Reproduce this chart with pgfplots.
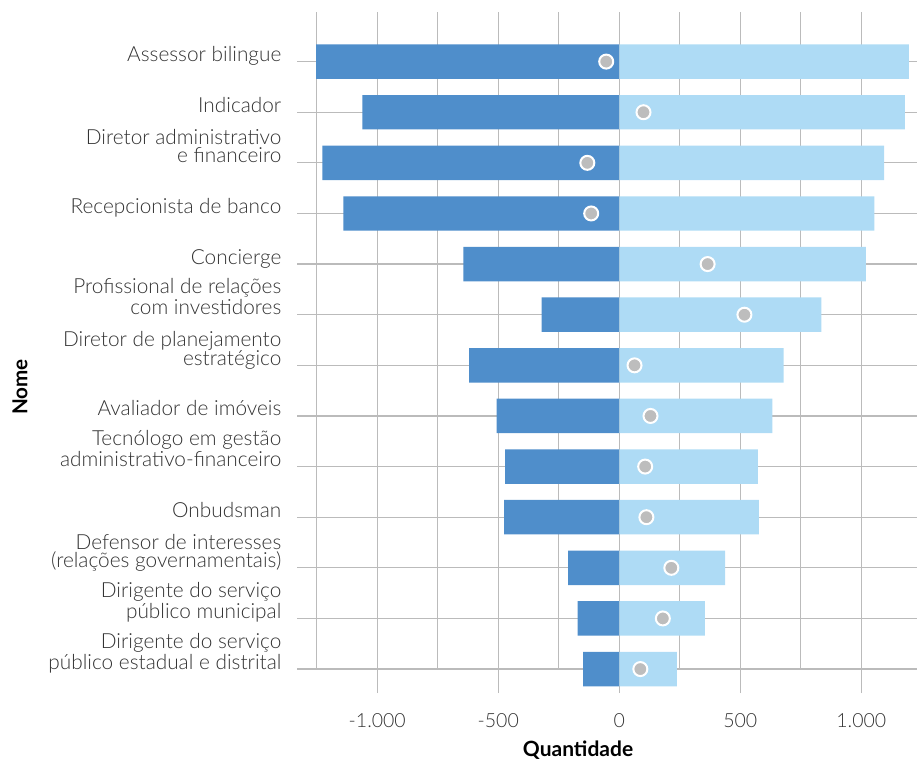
\documentclass[border=0pt]{standalone}
\usepackage{pgfplots}
\pgfplotsset{compat=1.18}
\usepackage{pgfplotstable}
\usepackage{fontspec}
\setmainfont{Lato}[UprightFont=* Light, BoldFont=* Bold]

\definecolor{negc}{HTML}{4F8ECB}
\definecolor{posc}{HTML}{AEDBF5}
\definecolor{gridc}{HTML}{BBBBBB}
\definecolor{dotc}{HTML}{BDBDBD}
\definecolor{txt}{HTML}{333333}

% row: 12 = topo (Assessor bilingue), 0 = base
\pgfplotstableread{
row neg pos net
12 -1253 1196 -54
11 -1061 1180 100
10 -1227 1094 -132
9 -1140 1054 -116
8 -644 1019 365
7 -321 835 517
6 -620 679 63
5 -507 632 129
4 -472 573 107
3 -476 577 112
2 -211 437 215
1 -172 354 180
0 -149 238 87
}\data

\begin{document}
\begin{tikzpicture}
\begin{axis}[
    name=ax,
    scale only axis,
    width=300.1pt, height=328.5pt,
    xmin=-1250, xmax=1230,
    ymin=0, ymax=12.98,
    clip=false,
    axis line style={draw=none},
    tick pos=left,
    tick align=outside,
    major tick length=12pt,
    minor tick length=0pt,
    xtick={-1000,-500,0,500,1000},
    xticklabels={-1.000,-500,0,500,1.000},
    minor xtick={-1250,-750,-250,250,750},
    ytick={0,...,12},
    yticklabels={{Dirigente do serviço\\público estadual e distrital},{Dirigente do serviço\\público municipal},{Defensor de interesses\\(relações governamentais)},Onbudsman,{Tecnólogo em gestão\\administrativo-financeiro},Avaliador de imóveis,{Diretor de planejamento\\estratégico},{Profissional de relações\\com investidores},Concierge,Recepcionista de banco,{Diretor administrativo\\e financeiro},Indicador,Assessor bilingue},
    grid=both,
    major grid style={gridc, line width=0.65pt},
    minor grid style={gridc, line width=0.65pt},
    xtick style={gridc, line width=0.65pt},
    ytick style={gridc, line width=0.65pt, /pgfplots/major tick length=9.85pt},
    xticklabel style={anchor=base, inner sep=0pt, text=txt, font=\fontsize{9.75}{9.75}\selectfont, yshift=-17pt},
    yticklabel style={align=right, anchor=base east, inner sep=0pt, text=txt, font=\fontsize{10.4}{9.4}\selectfont, xshift=-5.5pt},
]
\addplot[xbar, bar shift=0pt, bar width=0.68, fill=negc, draw=none] table[x=neg, y=row] {\data};
\addplot[xbar, bar shift=0pt, bar width=0.68, fill=posc, draw=none] table[x=pos, y=row] {\data};
\addplot[only marks, mark=*, mark size=3.5pt, mark options={fill=dotc, draw=white, line width=1pt}] table[x=net, y=row] {\data};
\end{axis}
\node[rotate=90, anchor=center, font=\fontsize{10.3}{10.3}\selectfont\bfseries, text=black] at ([xshift=-148.35pt, yshift=141pt]ax.south west) {Nome};
\node[anchor=base, font=\fontsize{10.5}{10.5}\selectfont\bfseries, text=black] at ([xshift=130.65pt, yshift=-43.5pt]ax.south west) {Quantidade};
\pgfresetboundingbox
\path[use as bounding box] ([xshift=-158.35pt, yshift=-45pt]ax.south west) rectangle ([yshift=6pt]ax.north east);
\end{tikzpicture}
\end{document}
